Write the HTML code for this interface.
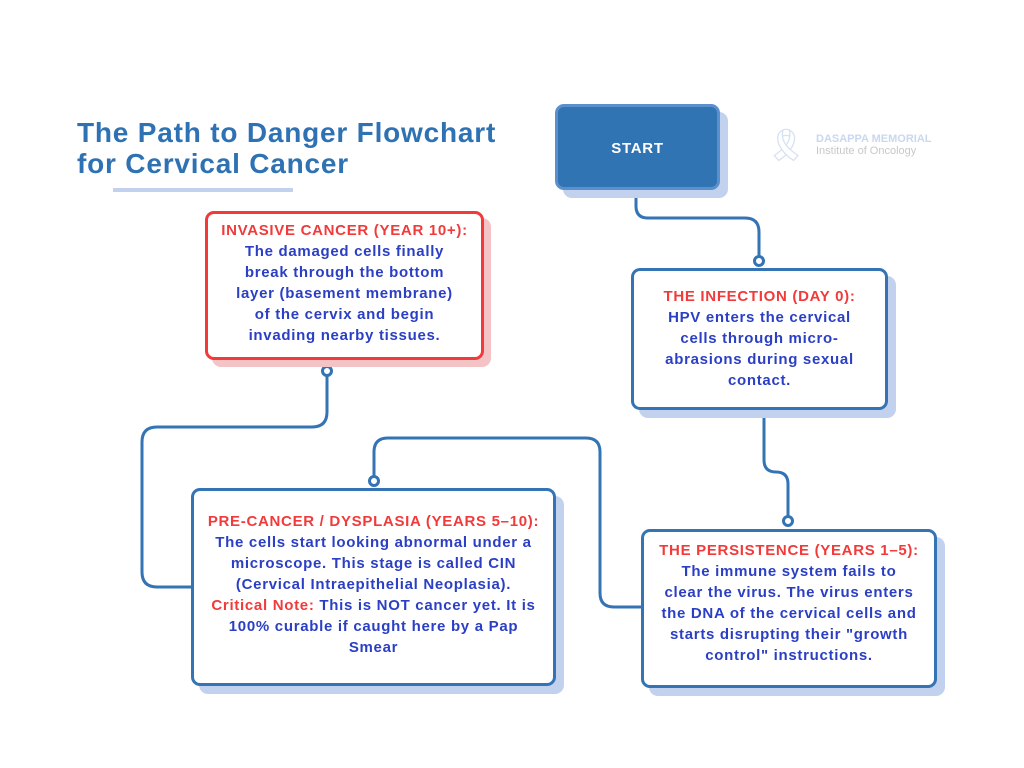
<!DOCTYPE html>
<html><head><meta charset="utf-8"><style>
body{margin:0;width:1024px;height:768px;background:#fff;position:relative;overflow:hidden;font-family:"Liberation Sans",sans-serif}
.box{position:absolute;box-sizing:border-box;border:3px solid #3474b4;border-radius:9px;background:#fff;box-shadow:8px 8px 0 #c2d2ee}
.t{position:absolute;text-align:center;font-weight:bold;font-size:15px;line-height:21px;color:#2b3fc4;white-space:nowrap;letter-spacing:0.7px}
.r{color:#f23a3a}
</style></head><body>
<div style="position:absolute;left:77px;top:117px;font-size:28px;letter-spacing:0.8px;font-weight:bold;color:#2f72b3;line-height:31px">The Path to Danger Flowchart<br>for Cervical Cancer</div>
<div style="position:absolute;left:113px;top:188px;width:180px;height:4px;background:#c2d2ee"></div>

<svg width="1024" height="768" style="position:absolute;left:0;top:0" fill="none" stroke="#3474b4" stroke-width="3">
<path d="M636 190 V206 Q636 218 648 218 H745 Q759 218 759 232 V257"/>
<circle cx="759" cy="261" r="4.5" fill="#fff"/>
<path d="M764 410 V460 Q764 472 776 472 H776 Q788 472 788 484 V517"/>
<circle cx="788" cy="521" r="4.5" fill="#fff"/>
<path d="M641 607 H614 Q600 607 600 593 V452 Q600 438 586 438 H388 Q374 438 374 452 V477"/>
<circle cx="374" cy="481" r="4.5" fill="#fff"/>
<path d="M191 587 H157 Q142 587 142 572 V442 Q142 427 157 427 H312 Q327 427 327 412 V375"/>
<circle cx="327" cy="371" r="4.5" fill="#fff"/>
</svg>

<div class="box" style="left:555px;top:104px;width:165px;height:86px;background:#3174b3;border-color:#5b90cc"></div>
<div class="t" style="left:555px;width:165px;top:138px;color:#fff">START</div>

<div style="position:absolute;left:762px;top:125px;width:48px;height:40px;color:#d6e2f2;font-size:32px;line-height:40px;text-align:center">🎗</div>
<div style="position:absolute;left:816px;top:133px;font-size:11px;line-height:12px;font-weight:bold;color:#c9d8ef">DASAPPA MEMORIAL<br><span style="color:#c8c8c8;font-weight:normal">Institute of Oncology</span></div>

<div class="box" style="left:205px;top:211px;width:279px;height:149px;border-color:#f23a3a;box-shadow:7px 7px 0 #f4c3c6"></div>
<div class="t" style="left:205px;width:279px;top:220px"><span class="r">INVASIVE CANCER (YEAR 10+):</span><br>The damaged cells finally<br>break through the bottom<br>layer (basement membrane)<br>of the cervix and begin<br>invading nearby tissues.</div>

<div class="box" style="left:631px;top:268px;width:257px;height:142px"></div>
<div class="t" style="left:631px;width:257px;top:286px"><span class="r">THE INFECTION (DAY 0):</span><br>HPV enters the cervical<br>cells through micro-<br>abrasions during sexual<br>contact.</div>

<div class="box" style="left:641px;top:529px;width:296px;height:159px"></div>
<div class="t" style="left:641px;width:296px;top:540px"><span class="r">THE PERSISTENCE (YEARS 1–5):</span><br>The immune system fails to<br>clear the virus. The virus enters<br>the DNA of the cervical cells and<br>starts disrupting their "growth<br>control" instructions.</div>

<div class="box" style="left:191px;top:488px;width:365px;height:198px"></div>
<div class="t" style="left:191px;width:365px;top:511px"><span class="r">PRE-CANCER / DYSPLASIA (YEARS 5–10):</span><br>The cells start looking abnormal under a<br>microscope. This stage is called CIN<br>(Cervical Intraepithelial Neoplasia).<br><span class="r">Critical Note:</span> This is NOT cancer yet. It is<br>100% curable if caught here by a Pap<br>Smear</div>
</body></html>
